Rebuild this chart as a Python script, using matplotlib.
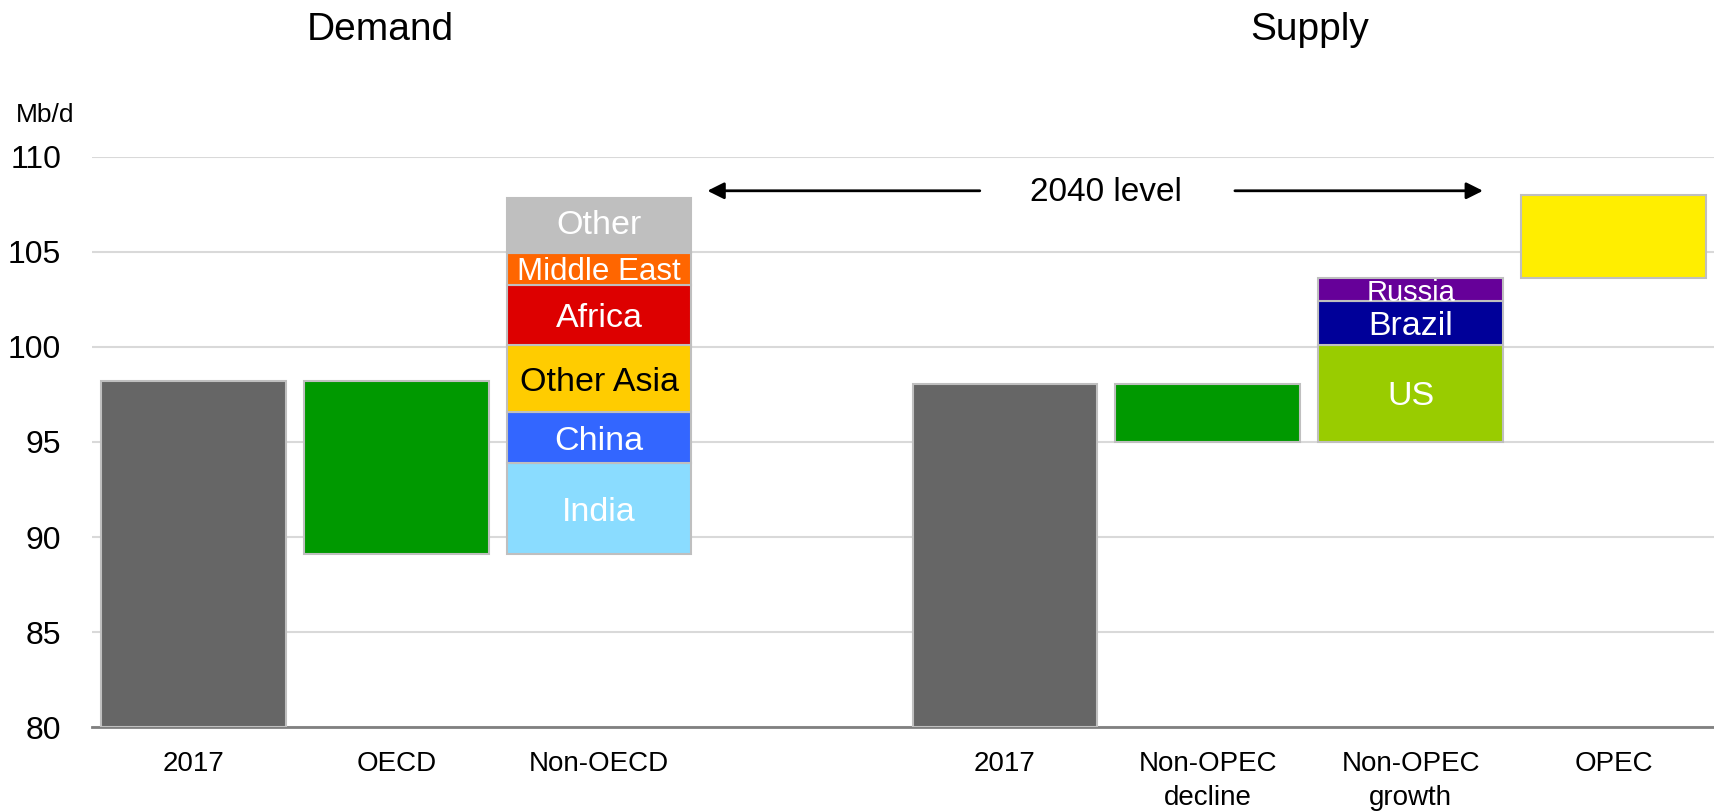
import matplotlib
matplotlib.use("Agg")
import matplotlib.pyplot as plt
from matplotlib import font_manager

# data (Mb/d)
demand_2017 = 98.2
oecd_change = -9.1
non_oecd_labels = ["India", "China", "Other Asia", "Africa", "Middle East", "Other"]
non_oecd_values = [4.8, 2.65, 3.55, 3.15, 1.7, 2.85]
non_oecd_colors = ["#8adcff", "#3366ff", "#ffcc00", "#dd0000", "#ff6600", "#bfbfbf"]
non_oecd_textc = ["white", "white", "black", "white", "white", "white"]

supply_2017 = 98.05
non_opec_decline = -3.05
growth_labels = ["US", "Brazil", "Russia"]
growth_values = [5.1, 2.3, 1.2]
growth_colors = ["#99cc00", "#000099", "#660099"]
opec_change = 4.4

categories = ["2017", "OECD", "Non-OECD", "", "2017", "Non-OPEC\ndecline",
              "Non-OPEC\ngrowth", "OPEC"]

names = [f.name for f in font_manager.fontManager.ttflist]
narrow = "Liberation Sans Narrow" if "Liberation Sans Narrow" in names else "Liberation Sans"
plt.rcParams['font.family'] = ["Liberation Sans", "DejaVu Sans"]

fig = plt.figure(figsize=(17.15, 8.11), dpi=100)
ax = fig.add_axes([0.0536, 0.103, 0.9464, 0.704])

W = 0.91
EC = "#bfbfbf"
LW = 1.5

# demand side
ax.bar(0, demand_2017 - 80, bottom=80, width=W, color="#666666", edgecolor=EC, lw=LW, zorder=3)
ax.bar(1, -oecd_change, bottom=demand_2017 + oecd_change, width=W, color="#009900",
       edgecolor=EC, lw=LW, zorder=3)
base = demand_2017 + oecd_change
for lab, v, c, tc in zip(non_oecd_labels, non_oecd_values, non_oecd_colors, non_oecd_textc):
    ax.bar(2, v, bottom=base, width=W, color=c, edgecolor=EC, lw=LW, zorder=3)
    fs = 22.5 if lab == "Middle East" else 24.5
    va = "center" if lab == "Other" else "center_baseline"
    ax.text(2, base + v / 2, lab, ha="center", va=va, color=tc, fontsize=fs, zorder=4)
    base += v

# supply side
ax.bar(4, supply_2017 - 80, bottom=80, width=W, color="#666666", edgecolor=EC, lw=LW, zorder=3)
ax.bar(5, -non_opec_decline, bottom=supply_2017 + non_opec_decline, width=W, color="#009900",
       edgecolor=EC, lw=LW, zorder=3)
base = supply_2017 + non_opec_decline
for lab, v, c in zip(growth_labels, growth_values, growth_colors):
    ax.bar(6, v, bottom=base, width=W, color=c, edgecolor=EC, lw=LW, zorder=3)
    fs = 21 if lab == "Russia" else 24.5
    ax.text(6, base + v / 2, lab, ha="center", va="center_baseline", color="white",
            fontsize=fs, zorder=4)
    base += v
ax.bar(7, opec_change, bottom=base, width=W, color="#ffee00", edgecolor=EC, lw=LW, zorder=3)

ax.set_xlim(-0.5, 7.5)
ax.set_ylim(80, 110)
ax.set_yticks(range(80, 111, 5))
ax.set_xticks(range(len(categories)))
ax.set_xticklabels(categories, fontsize=20, family=narrow, linespacing=1.4)
ax.tick_params(axis="x", length=0, pad=17)
ax.tick_params(axis="y", length=0, labelsize=23, pad=22)
ax.grid(axis="y", color="#d9d9d9", lw=1.5, zorder=0)
for s in ["left", "right", "top"]:
    ax.spines[s].set_visible(False)
ax.spines["bottom"].set_color("#808080")
ax.spines["bottom"].set_linewidth(2)

# 2040 level annotation
ax.text(4.5, 108.1, "2040 level", ha="center", va="center", fontsize=24, family=narrow)
ax.annotate("", xy=(2.52, 108.2), xytext=(3.89, 108.2),
            arrowprops=dict(arrowstyle="-|>", color="black", lw=2, mutation_scale=25))
ax.annotate("", xy=(6.37, 108.2), xytext=(5.12, 108.2),
            arrowprops=dict(arrowstyle="-|>", color="black", lw=2, mutation_scale=25))

fig.text(380 / 1715, 1 - 30 / 811, "Demand", ha="center", va="center", fontsize=28)
fig.text(1310 / 1715, 1 - 30 / 811, "Supply", ha="center", va="center", fontsize=28)
fig.text(16 / 1715, 1 - 115 / 811, "Mb/d", ha="left", va="center", fontsize=19)

fig.savefig("out.png", dpi=100)
